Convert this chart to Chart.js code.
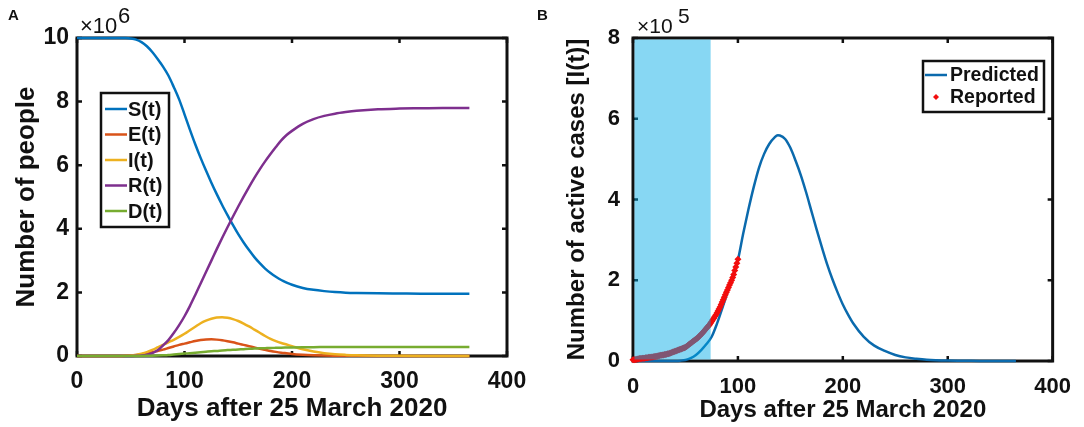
<!DOCTYPE html>
<html><head><meta charset="utf-8">
<script src="https://cdn.jsdelivr.net/npm/chart.js@4.4.1/dist/chart.umd.min.js"></script>
<style>
html,body{margin:0;padding:0;background:#fff;width:1084px;height:427px;overflow:hidden}
#a{position:absolute;left:0;top:0;width:540px;height:427px}
#b{position:absolute;left:530px;top:0;width:554px;height:427px}
</style></head><body>
<canvas id="a" width="540" height="427"></canvas>
<canvas id="b" width="554" height="427"></canvas>
<script>
// ---------- Panel A data (values in units of 10^6 people) ----------
const daysA = [0,10,20,30,40,45,50,55,60,65,70,75,80,85,90,95,100,105,110,115,120,125,130,135,140,145,150,155,160,165,170,175,180,185,190,195,200,210,220,230,240,250,260,280,300,320,340,365];
const S_t = [10,10,10,10,10,9.998,9.985,9.95,9.87,9.74,9.56,9.34,9.1,8.82,8.46,8.07,7.6,7.12,6.66,6.23,5.83,5.45,5.09,4.75,4.43,4.12,3.83,3.57,3.33,3.11,2.92,2.75,2.61,2.49,2.39,2.31,2.24,2.14,2.08,2.04,2.01,1.99,1.98,1.97,1.965,1.96,1.96,1.96];
const E_t = [0,0,0,0,0,0.005,0.012,0.03,0.055,0.085,0.12,0.16,0.2,0.25,0.3,0.35,0.39,0.43,0.47,0.5,0.52,0.525,0.515,0.495,0.465,0.43,0.39,0.35,0.31,0.27,0.23,0.195,0.16,0.13,0.105,0.085,0.065,0.04,0.024,0.014,0.009,0.006,0.004,0.002,0.001,0,0,0];
const I_t = [0,0,0,0,0,0.005,0.015,0.035,0.07,0.12,0.19,0.27,0.35,0.43,0.51,0.6,0.7,0.81,0.92,1.03,1.11,1.17,1.21,1.22,1.2,1.16,1.1,1.02,0.93,0.83,0.73,0.63,0.54,0.47,0.41,0.36,0.31,0.21,0.14,0.09,0.055,0.035,0.022,0.01,0.005,0.002,0.001,0];
const R_t = [0,0,0,0,0,0,0.002,0.005,0.015,0.04,0.09,0.18,0.33,0.5,0.72,0.97,1.25,1.57,1.92,2.28,2.64,3.0,3.36,3.71,4.05,4.38,4.7,5.01,5.31,5.6,5.87,6.12,6.35,6.57,6.78,6.95,7.08,7.3,7.45,7.55,7.62,7.67,7.71,7.76,7.78,7.79,7.8,7.8];
const D_t = [0,0,0,0,0,0,0,0.001,0.002,0.004,0.007,0.012,0.02,0.03,0.045,0.06,0.075,0.09,0.105,0.12,0.135,0.15,0.16,0.175,0.185,0.195,0.205,0.215,0.225,0.232,0.24,0.246,0.252,0.257,0.262,0.266,0.27,0.275,0.278,0.28,0.282,0.283,0.284,0.285,0.285,0.285,0.285,0.285];
const seriesNamesA = ['S(t)','E(t)','I(t)','R(t)','D(t)'];
const xTicksA = [0,100,200,300,400];
const yTicksA = [0,2,4,6,8,10];

// ---------- Panel B data (values in units of 10^5 active cases) ----------
const daysPred = [0,10,20,30,40,45,50,55,60,65,70,75,80,85,90,95,100,105,110,115,120,125,130,135,138,140,145,150,155,160,165,170,175,180,185,190,195,200,205,210,220,230,240,250,260,270,280,300,330,365];
const predicted = [0,0,0,0,0.002,0.008,0.025,0.07,0.15,0.27,0.42,0.6,0.92,1.3,1.7,2.1,2.5,3.15,3.75,4.3,4.78,5.13,5.38,5.54,5.59,5.585,5.5,5.28,4.96,4.6,4.18,3.72,3.26,2.82,2.4,2.03,1.7,1.4,1.15,0.93,0.6,0.38,0.25,0.15,0.09,0.055,0.03,0.01,0.003,0];
const daysRep = [0,1,2,3,4,5,6,7,8,9,10,11,12,13,14,15,16,17,18,19,20,21,22,23,24,25,26,27,28,29,30,31,32,33,34,35,36,37,38,39,40,41,42,43,44,45,46,47,48,49,50,51,52,53,54,55,56,57,58,59,60,61,62,63,64,65,66,67,68,69,70,71,72,73,74,75,76,77,78,79,80,81,82,83,84,85,86,87,88,89,90,91,92,93,94,95,96,97,98,99,100];
const reported = [0.03,0.03,0.04,0.04,0.05,0.05,0.06,0.06,0.06,0.07,0.07,0.07,0.08,0.08,0.08,0.09,0.09,0.09,0.10,0.10,0.11,0.11,0.12,0.12,0.13,0.13,0.14,0.14,0.15,0.15,0.16,0.16,0.17,0.18,0.18,0.19,0.20,0.21,0.22,0.23,0.24,0.25,0.26,0.27,0.28,0.29,0.30,0.31,0.32,0.33,0.34,0.36,0.38,0.40,0.42,0.44,0.46,0.48,0.50,0.52,0.54,0.56,0.58,0.61,0.63,0.66,0.69,0.72,0.75,0.78,0.81,0.84,0.87,0.90,0.94,0.98,1.02,1.06,1.10,1.14,1.19,1.24,1.29,1.34,1.40,1.46,1.52,1.58,1.64,1.70,1.76,1.82,1.88,1.94,2.00,2.07,2.14,2.24,2.33,2.42,2.52];
const seriesNamesB = ['Predicted','Reported'];
const shadeEndDay = 74;
const xTicksB = [0,100,200,300,400];
const yTicksB = [0,2,4,6,8];

// ---------- styling ----------
const FONT = '"Liberation Sans", Arial, Helvetica, sans-serif';
Chart.defaults.font.family = FONT;
Chart.defaults.color = '#111';
const COLORS_A = ['#0072BD','#D95319','#EDB120','#7E2F8E','#77AC30'];
const COLOR_PRED = '#0b6aad';
const COLOR_REP = '#f20d0d';

const toXY = (xs, ys) => xs.map((x, i) => ({x: x, y: ys[i]}));

// Box + inward tick marks (MATLAB style)
const boxPlugin = {
  id: 'box',
  beforeDatasetsDraw(chart) {
    const {ctx, chartArea: a, scales: {x, y}} = chart;
    ctx.save();
    ctx.strokeStyle = '#111';
    ctx.lineWidth = 3;
    ctx.strokeRect(a.left, a.top, a.right - a.left, a.bottom - a.top);
    ctx.lineWidth = 2.5;
    const tl = 5;
    ctx.beginPath();
    x.ticks.forEach(t => {
      const px = x.getPixelForValue(t.value);
      ctx.moveTo(px, a.bottom); ctx.lineTo(px, a.bottom - tl);
      ctx.moveTo(px, a.top); ctx.lineTo(px, a.top + tl);
    });
    y.ticks.forEach(t => {
      const py = y.getPixelForValue(t.value);
      ctx.moveTo(a.left, py); ctx.lineTo(a.left + tl, py);
      ctx.moveTo(a.right, py); ctx.lineTo(a.right - tl, py);
    });
    ctx.stroke();
    ctx.restore();
  }
};

// Text decorations: panel letter and exponent
const decoPlugin = {
  id: 'deco',
  afterDraw(chart, args, o) {
    const ctx = chart.ctx;
    ctx.save();
    ctx.fillStyle = '#111';
    ctx.textBaseline = 'middle';
    ctx.textAlign = 'left';
    ctx.font = 'bold 15px ' + FONT;
    ctx.fillText(o.letter, o.letterX, 16);
    ctx.font = o.expSize + 'px ' + FONT;
    ctx.fillText('\u00d710', o.expX, 27);
    ctx.fillText(o.exp, o.supX, 17);
    ctx.restore();
  }
};

// Legend A (boxed, inside plot)
const legendAPlugin = {
  id: 'legendA',
  afterDraw(chart) {
    const ctx = chart.ctx;
    ctx.save();
    ctx.fillStyle = '#fff';
    ctx.fillRect(101, 93, 68, 134);
    ctx.strokeStyle = '#111';
    ctx.lineWidth = 2.5;
    ctx.strokeRect(101, 93, 68, 134);
    ctx.font = 'bold 20px ' + FONT;
    ctx.textBaseline = 'middle';
    chart.data.datasets.forEach((ds, i) => {
      const yy = 109 + i * 25.5;
      ctx.strokeStyle = ds.borderColor;
      ctx.lineWidth = 2.5;
      ctx.beginPath(); ctx.moveTo(105, yy); ctx.lineTo(127, yy); ctx.stroke();
      ctx.fillStyle = '#111';
      ctx.fillText(ds.label, 128, yy + 1);
    });
    ctx.restore();
  }
};

// Shaded fitting window in panel B (drawn over the data)
const shadePlugin = {
  id: 'shade',
  afterDatasetsDraw(chart) {
    const {ctx, chartArea: a, scales: {x}} = chart;
    ctx.save();
    ctx.fillStyle = 'rgba(0,170,230,0.47)';
    const x1 = x.getPixelForValue(shadeEndDay);
    ctx.fillRect(a.left + 1.5, a.top + 1.5, x1 - a.left - 1.5, a.bottom - a.top - 3);
    ctx.restore();
  }
};

const legendBPlugin = {
  id: 'legendB',
  afterDraw(chart) {
    const ctx = chart.ctx;
    const ds = chart.data.datasets;
    ctx.save();
    ctx.fillStyle = '#fff';
    ctx.fillRect(393, 61, 121, 51);
    ctx.strokeStyle = '#111';
    ctx.lineWidth = 2.5;
    ctx.strokeRect(393, 61, 121, 51);
    ctx.font = 'bold 19.5px ' + FONT;
    ctx.textBaseline = 'middle';
    ctx.strokeStyle = ds[0].borderColor;
    ctx.beginPath(); ctx.moveTo(395, 75); ctx.lineTo(417, 75); ctx.stroke();
    ctx.fillStyle = ds[1].backgroundColor;
    ctx.beginPath();
    ctx.moveTo(406, 94); ctx.lineTo(409, 97); ctx.lineTo(406, 100); ctx.lineTo(403, 97); ctx.closePath(); ctx.fill();
    ctx.fillStyle = '#111';
    ctx.fillText(ds[0].label, 420, 76);
    ctx.fillText(ds[1].label, 420, 98);
    ctx.restore();
  }
};

function axisCfg(o) {
  return {
    type: 'linear', min: o.min, max: o.max,
    afterBuildTicks: s => { s.ticks = o.ticks.map(v => ({value: v})); },
    ticks: {autoSkip: false, maxRotation: 0, padding: o.pad, color: '#111', font: {size: o.tickSize, weight: 'bold'}},
    grid: {display: false, drawTicks: false},
    border: {display: false},
    title: {display: true, text: o.title, color: '#111', font: {size: o.titleSize, weight: 'bold'}, padding: o.titlePad},
    afterFit: o.fit
  };
}

// ---------- Chart A ----------
new Chart(document.getElementById('a'), {
  type: 'line',
  data: {
    datasets: [S_t, E_t, I_t, R_t, D_t].map((vals, i) => ({
      label: seriesNamesA[i],
      data: toXY(daysA, vals),
      borderColor: COLORS_A[i],
      backgroundColor: COLORS_A[i],
      borderWidth: 2.5,
      pointRadius: 0,
      cubicInterpolationMode: 'monotone',
      clip: 4,
      order: 5 - i
    }))
  },
  options: {
    responsive: false, animation: false,
    layout: {padding: {left: 0, top: 38, right: 33, bottom: 0}},
    plugins: {legend: {display: false}, tooltip: {enabled: false},
      deco: {letter: 'A', letterX: 8, expX: 80, supX: 118, exp: '6', expSize: 22}},
    scales: {
      x: axisCfg({min: 0, max: 400, ticks: xTicksA, pad: 12, tickSize: 23, title: 'Days after 25 March 2020', titleSize: 26, titlePad: {top: 0, bottom: 3}, fit: s => { s.height = 71; }}),
      y: axisCfg({min: 0, max: 10, ticks: yTicksA, pad: 8, tickSize: 23, title: 'Number of people', titleSize: 26, titlePad: {top: 11, bottom: 0}, fit: s => { s.width = 77; }})
    }
  },
  plugins: [boxPlugin, legendAPlugin, decoPlugin]
});

// ---------- Chart B ----------
new Chart(document.getElementById('b'), {
  type: 'line',
  data: {
    datasets: [
      {label: seriesNamesB[0], data: toXY(daysPred, predicted), borderColor: COLOR_PRED, backgroundColor: COLOR_PRED,
       borderWidth: 2.5, pointRadius: 0, cubicInterpolationMode: 'monotone', clip: 4, order: 2},
      {label: seriesNamesB[1], data: toXY(daysRep, reported), borderColor: COLOR_REP, backgroundColor: COLOR_REP,
       showLine: false, pointStyle: 'rectRot', pointRadius: 3.5, pointBorderWidth: 0, clip: 6, order: 1}
    ]
  },
  options: {
    responsive: false, animation: false,
    layout: {padding: {left: 0, top: 38, right: 21, bottom: 0}},
    plugins: {legend: {display: false}, tooltip: {enabled: false},
      deco: {letter: 'B', letterX: 7, expX: 107, supX: 148, exp: '5', expSize: 21}},
    scales: {
      x: axisCfg({min: 0, max: 400, ticks: xTicksB, pad: 13, tickSize: 22, title: 'Days after 25 March 2020', titleSize: 24, titlePad: {top: 0, bottom: 2}, fit: s => { s.height = 66; }}),
      y: axisCfg({min: 0, max: 8, ticks: yTicksB, pad: 13, tickSize: 22, title: 'Number of active cases [I(t)]', titleSize: 24, titlePad: {top: 33, bottom: 0}, fit: s => { s.width = 103; }})
    }
  },
  plugins: [boxPlugin, shadePlugin, legendBPlugin, decoPlugin]
});
</script>
</body></html>
